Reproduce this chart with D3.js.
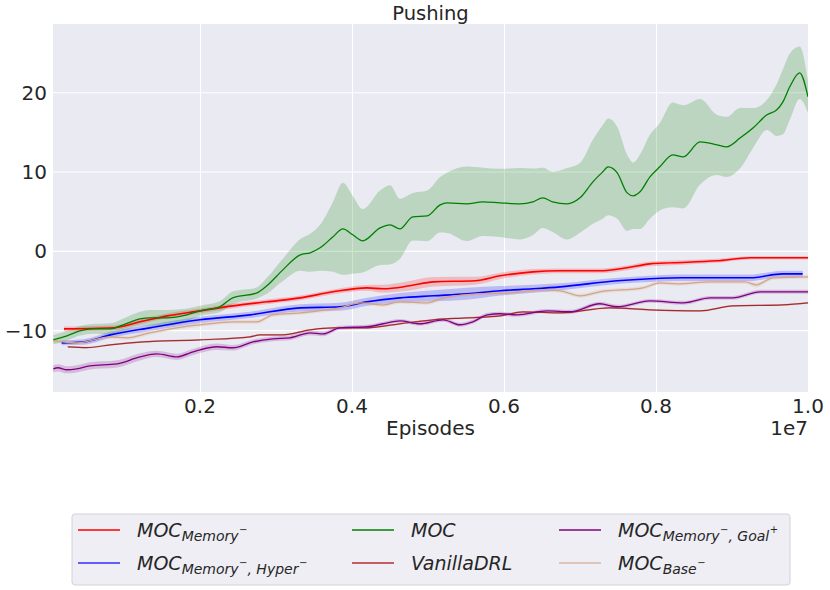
<!DOCTYPE html>
<html>
<head>
<meta charset="UTF-8">
<title>Pushing</title>
<style>
  body { margin: 0; background: #fff; }
  svg { display: block; font-family: "DejaVu Sans", sans-serif; }
  .grid line { stroke: #fff; stroke-width: 1.1; }
  .grid path { display: none; }
  .ticklbl { font-size: 20px; fill: #262626; }
</style>
</head>
<body>
<div id="chart"></div>
<script src="https://d3js.org/d3.v7.min.js"></script>
<script>
// x is in 1e7 episodes; each point is [episodes, mean return, std]
const memoryMinus = [
  [0.021, -9.84, 0.3], [0.086, -9.7, 0.3], [0.121, -8.95, 0.3], [0.157, -8.2, 0.3],
  [0.2, -7.57, 0.3], [0.243, -6.94, 0.3], [0.288, -6.43, 0.3], [0.332, -5.93, 0.3],
  [0.375, -5.17, 0.3], [0.42, -4.67, 0.35], [0.441, -4.79, 0.5], [0.476, -4.41, 0.6],
  [0.507, -3.91, 0.6], [0.562, -3.78, 0.5], [0.595, -3.15, 0.4], [0.638, -2.65, 0.35],
  [0.674, -2.52, 0.3], [0.726, -2.52, 0.3], [0.762, -2.14, 0.3], [0.792, -1.64, 0.3],
  [0.822, -1.51, 0.3], [0.88, -1.26, 0.25], [0.924, -0.88, 0.2], [1.0, -0.88, 0.2]
];
const memoryHyperMinus = [
  [0.018, -11.6, 0.3], [0.046, -11.5, 0.35], [0.082, -10.6, 0.4], [0.134, -9.71, 0.4],
  [0.2, -8.7, 0.4], [0.266, -8.07, 0.4], [0.332, -7.19, 0.45], [0.384, -7.06, 0.5],
  [0.42, -6.43, 0.5], [0.463, -5.93, 0.6], [0.507, -5.67, 0.7], [0.551, -5.42, 0.75],
  [0.595, -5.04, 0.6], [0.638, -4.79, 0.5], [0.674, -4.54, 0.45], [0.749, -3.78, 0.4],
  [0.792, -3.53, 0.4], [0.836, -3.4, 0.4], [0.924, -3.4, 0.4], [0.967, -2.9, 0.4],
  [0.993, -2.9, 0.4]
];
const moc = [
  [0.007, -11.22, 0.6], [0.025, -10.72, 0.6], [0.042, -10.09, 0.6], [0.059, -9.84, 0.6],
  [0.082, -9.84, 0.7], [0.099, -9.33, 0.8], [0.121, -8.58, 0.9], [0.134, -8.45, 1.0],
  [0.157, -8.45, 1.0], [0.183, -8.07, 0.8], [0.2, -7.57, 0.65], [0.226, -7.06, 0.7],
  [0.243, -5.93, 0.8], [0.275, -5.3, 0.7], [0.288, -4.41, 1.0], [0.309, -2.4, 1.4],
  [0.332, -0.5, 2.0], [0.345, -0.25, 2.4], [0.358, 0.38, 2.9], [0.375, 1.77, 4.4],
  [0.388, 2.77, 5.8], [0.401, 2.02, 4.9], [0.414, 1.26, 4.0], [0.437, 2.9, 4.7],
  [0.45, 3.28, 5.0], [0.463, 2.77, 3.8], [0.48, 4.29, 3.0], [0.499, 4.41, 3.2],
  [0.516, 5.8, 3.5], [0.525, 6.05, 3.8], [0.551, 5.93, 4.7], [0.572, 6.18, 4.3],
  [0.595, 6.05, 4.3], [0.621, 5.93, 4.5], [0.638, 6.18, 4.2], [0.651, 6.68, 3.8],
  [0.664, 6.18, 3.8], [0.683, 5.93, 4.5], [0.7, 6.68, 4.4], [0.717, 8.7, 5.3],
  [0.73, 9.96, 5.9], [0.737, 10.59, 6.1], [0.749, 9.84, 5.8], [0.762, 7.31, 4.8],
  [0.77, 6.94, 4.2], [0.779, 7.44, 4.7], [0.792, 9.33, 5.3], [0.805, 10.59, 5.5],
  [0.822, 12.1, 6.6], [0.836, 11.85, 6.5], [0.858, 13.75, 5.4], [0.88, 13.37, 3.8],
  [0.893, 13.11, 3.8], [0.911, 14.25, 3.8], [0.928, 15.51, 2.5], [0.946, 17.15, 1.9],
  [0.959, 17.78, 3.3], [0.967, 18.79, 4.1], [0.976, 20.68, 4.2], [0.989, 22.45, 3.3],
  [1.0, 19.42, 2.0]
];
const vanillaDRL = [
  [0.026, -12.1, 0.1], [0.051, -12.2, 0.1], [0.082, -11.85, 0.1], [0.125, -11.48, 0.1],
  [0.2, -11.22, 0.1], [0.266, -10.85, 0.1], [0.279, -10.6, 0.1], [0.309, -10.6, 0.1],
  [0.345, -9.96, 0.1], [0.375, -9.71, 0.1], [0.42, -9.71, 0.1], [0.463, -9.2, 0.1],
  [0.507, -8.7, 0.1], [0.551, -8.45, 0.1], [0.595, -8.2, 0.1], [0.625, -7.69, 0.1],
  [0.674, -7.82, 0.1], [0.739, -7.19, 0.1], [0.792, -7.44, 0.1], [0.858, -7.57, 0.1],
  [0.901, -6.94, 0.1], [0.967, -6.81, 0.1], [1.0, -6.56, 0.1]
];
const memoryGoal = [
  [0.007, -14.88, 0.45], [0.013, -14.75, 0.45], [0.025, -15.0, 0.45], [0.038, -14.88, 0.45],
  [0.055, -14.5, 0.45], [0.091, -14.25, 0.45], [0.121, -13.37, 0.45], [0.143, -12.99, 0.4],
  [0.17, -13.37, 0.4], [0.187, -12.86, 0.4], [0.2, -12.48, 0.4], [0.222, -12.1, 0.4],
  [0.243, -12.23, 0.35], [0.27, -11.48, 0.3], [0.296, -11.1, 0.3], [0.318, -10.97, 0.3],
  [0.345, -10.34, 0.3], [0.362, -10.47, 0.3], [0.384, -9.71, 0.25], [0.42, -9.58, 0.25],
  [0.441, -9.2, 0.25], [0.463, -8.83, 0.25], [0.489, -9.2, 0.25], [0.52, -8.7, 0.25],
  [0.542, -9.33, 0.25], [0.559, -8.95, 0.25], [0.578, -8.07, 0.25], [0.595, -7.94, 0.25],
  [0.617, -8.07, 0.25], [0.657, -7.57, 0.25], [0.687, -7.69, 0.25], [0.726, -6.68, 0.25],
  [0.749, -7.06, 0.25], [0.792, -6.31, 0.25], [0.836, -6.56, 0.25], [0.871, -5.93, 0.25],
  [0.901, -5.93, 0.25], [0.937, -5.17, 0.25], [1.0, -5.17, 0.25]
];
const baseMinus = [
  [0.007, -11.35, 0.25], [0.038, -11.6, 0.25], [0.082, -10.85, 0.25], [0.104, -10.97, 0.25],
  [0.134, -10.34, 0.25], [0.178, -9.58, 0.25], [0.2, -9.33, 0.25], [0.243, -8.95, 0.25],
  [0.275, -8.95, 0.25], [0.296, -8.07, 0.25], [0.332, -7.82, 0.25], [0.384, -7.19, 0.25],
  [0.411, -6.56, 0.25], [0.441, -6.81, 0.25], [0.463, -6.43, 0.25], [0.499, -6.56, 0.25],
  [0.52, -5.93, 0.25], [0.564, -5.42, 0.25], [0.608, -5.3, 0.25], [0.651, -4.92, 0.25],
  [0.674, -5.04, 0.25], [0.7, -5.67, 0.25], [0.726, -5.17, 0.25], [0.783, -4.67, 0.25],
  [0.805, -4.04, 0.25], [0.828, -4.16, 0.25], [0.871, -3.91, 0.25], [0.917, -3.91, 0.25],
  [0.932, -4.29, 0.3], [0.954, -3.4, 0.25], [1.0, -3.28, 0.25]
];

const xTicks = [0.2, 0.4, 0.6, 0.8, 1.0];
const yTicks = [-10, 0, 10, 20];
const xDomain = [0.0066, 1.0];
const yDomain = [-17.8, 28.6];

// legend labels: [text, role] pieces, roles are main / sub / subsup
const labelMemory = [["MOC", "main"], ["Memory", "sub"], ["−", "subsup"]];
const labelMemoryHyper = [["MOC", "main"], ["Memory", "sub"], ["−", "subsup"], [", Hyper", "sub"], ["−", "subsup"]];
const labelMoc = [["MOC", "main"]];
const labelVanilla = [["VanillaDRL", "main"]];
const labelMemoryGoal = [["MOC", "main"], ["Memory", "sub"], ["−", "subsup"], [", Goal", "sub"], ["+", "subsup"]];
const labelBase = [["MOC", "main"], ["Base", "sub"], ["−", "subsup"]];

const series = [
  {data: memoryMinus, label: labelMemory, color: "#ff0000", lw: 1.6, legendColor: "#ff0000", legendLw: 1.5},
  {data: memoryHyperMinus, label: labelMemoryHyper, color: "#0000ff", lw: 1.6, legendColor: "#5f5fff", legendLw: 2.2},
  {data: moc, label: labelMoc, color: "#008000", lw: 1.3, legendColor: "#008000", legendLw: 1.5},
  {data: vanillaDRL, label: labelVanilla, color: "#a52a2a", lw: 1.2, legendColor: "#b03030", legendLw: 1.5},
  {data: memoryGoal, label: labelMemoryGoal, color: "#800080", lw: 1.4, legendColor: "#800080", legendLw: 1.5},
  {data: baseMinus, label: labelBase, color: "#d4a584", lw: 1.3, legendColor: "#dfc5b8", legendLw: 2}
];

const width = 830, height = 590;
const margin = {top: 24, right: 22, bottom: 198, left: 53};
const pw = width - margin.left - margin.right;
const ph = height - margin.top - margin.bottom;

const svg = d3.select("#chart").append("svg").attr("width", width).attr("height", height);
const g = svg.append("g").attr("transform", `translate(${margin.left},${margin.top})`);

const x = d3.scaleLinear().domain(xDomain).range([0, pw]);
const y = d3.scaleLinear().domain(yDomain).range([ph, 0]);

g.append("rect").attr("width", pw).attr("height", ph).attr("fill", "#eaeaf2");

// grid
g.append("g").attr("class", "grid")
  .call(d3.axisBottom(x).tickValues(xTicks).tickSize(ph).tickFormat(""));
g.append("g").attr("class", "grid")
  .call(d3.axisLeft(y).tickValues(yTicks).tickSize(-pw).tickFormat(""));

const clip = svg.append("clipPath").attr("id", "clip")
  .append("rect").attr("width", pw).attr("height", ph);
const plot = g.append("g").attr("clip-path", "url(#clip)");

const area = d3.area().curve(d3.curveMonotoneX)
  .x(d => x(d[0])).y0(d => y(d[1] - d[2])).y1(d => y(d[1] + d[2]));
const line = d3.line().curve(d3.curveMonotoneX)
  .x(d => x(d[0])).y(d => y(d[1]));

series.forEach(s => {
  plot.append("path").datum(s.data).attr("d", area)
    .attr("fill", s.color).attr("fill-opacity", 0.2).attr("stroke", "none");
});
series.forEach(s => {
  plot.append("path").datum(s.data).attr("d", line)
    .attr("fill", "none").attr("stroke", s.color).attr("stroke-width", s.lw);
});

// tick labels
const fmtY = d => d < 0 ? "\u2212" + Math.abs(d) : String(d);
g.selectAll(".xl").data(xTicks).join("text").attr("class", "ticklbl")
  .attr("x", d => x(d)).attr("y", ph + 21).attr("text-anchor", "middle")
  .text(d => d.toFixed(1));
g.selectAll(".yl").data(yTicks).join("text").attr("class", "ticklbl")
  .attr("x", -6).attr("y", d => y(d) + 7.5).attr("text-anchor", "end")
  .text(fmtY);

g.append("text").attr("class", "ticklbl").attr("x", pw / 2).attr("y", ph + 43)
  .attr("text-anchor", "middle").text("Episodes");
g.append("text").attr("class", "ticklbl").attr("x", pw).attr("y", ph + 43)
  .attr("text-anchor", "end").text("1e7");
svg.append("text").attr("x", margin.left + pw / 2).attr("y", 20)
  .attr("text-anchor", "middle").attr("font-size", 19.5).attr("fill", "#262626").text("Pushing");

// legend
const lg = svg.append("g").attr("transform", "translate(72,514)");
lg.append("rect").attr("width", 718).attr("height", 71).attr("rx", 3)
  .attr("fill", "#eeeef4").attr("stroke", "#d2d2d8").attr("stroke-width", 1);

const colX = [6, 280, 487];
const rowY = [16, 49];
const size = {main: 19, sub: 14, subsup: 10};
const level = {main: 0, sub: 4, subsup: -4};

series.forEach((s, i) => {
  const cx = colX[Math.floor(i / 2)], cy = rowY[i % 2];
  lg.append("line").attr("x1", cx).attr("x2", cx + 42).attr("y1", cy).attr("y2", cy)
    .attr("stroke", s.legendColor).attr("stroke-width", s.legendLw);
  const t = lg.append("text").attr("x", cx + 59).attr("y", cy + 7)
    .attr("fill", "#262626").attr("font-style", "italic");
  let cur = 0;
  s.label.forEach(([txt, role]) => {
    t.append("tspan").attr("dy", level[role] - cur)
      .attr("font-size", size[role]).attr("dx", role === "subsup" ? 0.5 : 0)
      .text(txt);
    cur = level[role];
  });
});
</script>
</body>
</html>
